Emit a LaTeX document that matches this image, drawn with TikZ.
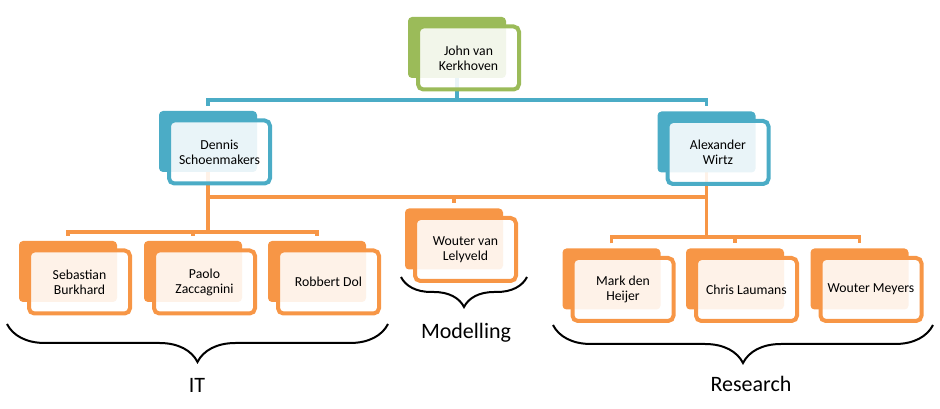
\documentclass[tikz,border=0pt]{standalone}
\usepackage{fontspec}
\setmainfont{Carlito}
\usetikzlibrary{decorations.pathreplacing,backgrounds}
\definecolor{ogreen}{HTML}{9BBB59}
\definecolor{oblue}{HTML}{4BACC6}
\definecolor{oorange}{HTML}{F79646}

\begin{document}
\begin{tikzpicture}[x=0.75pt,y=-0.75pt,
	 backbox/.style={fill=#1,rounded corners=3pt,inner sep=0pt,outer sep=0pt,
	   minimum width=73.5pt,minimum height=45.75pt},
	 frontbox/.style={draw=#1,line width=3pt,rounded corners=4pt,fill=white,
	   fill opacity=0.88,text opacity=1,minimum width=75.75pt,minimum height=47.25pt,
	   inner sep=1pt,align=center,font=\fontsize{10.3}{11.3}\selectfont},
	 link/.style={draw=#1,line width=2.5pt},
	 gap/.style={shorten >=3.75pt},
	 groupbrace/.style={decorate,decoration={brace,amplitude=#1,mirror},line width=1.5pt},
	 grouplabel/.style={font=\fontsize{16.5}{18}\selectfont}]
\useasboundingbox (0,0) rectangle (940,409);
% people: back tab + front frame
\foreach \n/\x/\y/\c/\t in {
	jvk/457/47.5/ogreen/{John van\\Kerkhoven},
	ds/208/141.5/oblue/{Dennis\\Schoenmakers},
	aw/706.5/142/oblue/{Alexander\\Wirtz},
	sb/68/271.5/oorange/{Sebastian\\Burkhard},
	pz/193/271.5/oorange/{Paolo\\Zaccagnini},
	rd/317/271.5/oorange/{Robbert Dol},
	wvl/454/239/oorange/{Wouter van\\Lelyveld},
	mdh/611.5/279/oorange/{Mark den\\Heijer},
	cl/735/279/oorange/{Chris Laumans},
	wm/859.5/279/oorange/{Wouter Meyers}}
{
	\node[backbox=\c] (b\n) at (\x,\y) {};
	\node[frontbox=\c] (\n) at (\x+11.5,\y+10.5) {\t};
}
% connectors
\begin{pgfonlayer}{background}
\coordinate (topbar) at (457,100);
\coordinate (midbar) at (454,197);
\coordinate (itbar) at (193,232);
\coordinate (resbar) at (735,237);
\draw[link=oblue,gap] (bjvk.south) -- (topbar) -| (bds.north);
\draw[link=oblue,gap] (topbar) -| (baw.north);
\draw[link=oorange] (bds.south) |- (midbar) -| (baw.south);
\draw[link=oorange,gap] (midbar) -- (bwvl.north);
\draw[link=oorange] (bds.south) -- (bds.south |- itbar);
\draw[link=oorange,gap,shorten <=3.75pt] (bsb.north) |- (itbar) -| (brd.north);
\draw[link=oorange,gap] (itbar) -- (bpz.north);
\draw[link=oorange] (baw.south) -- (baw.south |- resbar);
\draw[link=oorange,gap,shorten <=3.75pt] (bmdh.north) |- (resbar) -| (bwm.north);
\draw[link=oorange,gap] (resbar) -- (bcl.north);
\end{pgfonlayer}
% groups
\draw[groupbrace=28.5pt] (7,324) -- (388,324);
\draw[groupbrace=22.5pt] (401,277) -- (527,277);
\draw[groupbrace=28.5pt] (553,325) -- (933,325);
\node[grouplabel] (itlabel) at (197,385) {IT};
\node[grouplabel] (modlabel) at (466,333) {Modelling};
\node[grouplabel] (reslabel) at (751,384) {Research};
\end{tikzpicture}
\end{document}
